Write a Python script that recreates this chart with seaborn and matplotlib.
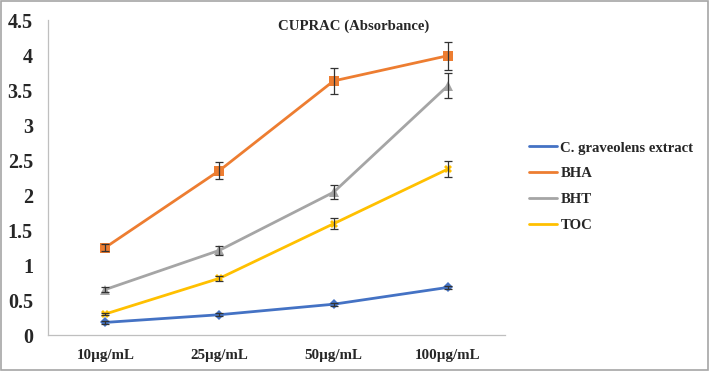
import numpy as np
import pandas as pd
import matplotlib
matplotlib.use("Agg")
import matplotlib.pyplot as plt
import seaborn as sns
from matplotlib.patches import Rectangle

# concentrations on the x axis
concentrations = ["10µg/mL", "25µg/mL", "50µg/mL", "100µg/mL"]
series_names = ["C. graveolens extract", "BHA", "BHT", "TOC"]

# absorbance values
extract_vals = [0.18, 0.29, 0.44, 0.68]
bha_vals = [1.25, 2.35, 3.63, 3.99]
bht_vals = [0.65, 1.21, 2.04, 3.56]
toc_vals = [0.30, 0.81, 1.59, 2.37]

# error bar half-widths
extract_err = [0.02, 0.02, 0.02, 0.02]
bha_err = [0.05, 0.12, 0.19, 0.20]
bht_err = [0.03, 0.06, 0.10, 0.18]
toc_err = [0.02, 0.04, 0.08, 0.11]

colors = ["#4472C4", "#ED7D31", "#A5A5A5", "#FFC000"]
markers = ["D", "s", "^", "X"]
marker_sizes = [5, 7.5, 7, 6]

values = [extract_vals, bha_vals, bht_vals, toc_vals]
errors = [extract_err, bha_err, bht_err, toc_err]

rows = []
for name, vals in zip(series_names, values):
    for c, v in zip(concentrations, vals):
        rows.append({"Concentration": c, "Absorbance": v, "Series": name})
df = pd.DataFrame(rows)

sns.set_theme(style="white")
plt.rcParams["font.family"] = ["Liberation Serif", "DejaVu Serif"]

fig = plt.figure(figsize=(7.09, 3.71), dpi=100)
ax = fig.add_axes([0.068, 0.097, 0.644, 0.849])

sns.lineplot(data=df, x="Concentration", y="Absorbance", hue="Series",
             style="Series", hue_order=series_names, style_order=series_names,
             palette=colors, markers=markers, dashes=False, markersize=6,
             markeredgewidth=0, linewidth=2, ax=ax, legend=False, sort=False)
for line, ms in zip(ax.lines, marker_sizes):
    line.set_markersize(ms)

for vals, errs in zip(values, errors):
    ax.errorbar(concentrations, vals, yerr=errs, fmt="none", ecolor="#333333",
                elinewidth=0.9, capsize=3, capthick=0.9, zorder=5)

ax.set_xlim(-0.5, 3.5)
ax.set_ylim(0, 4.5)
ax.set_yticks(np.arange(0, 4.51, 0.5))
ax.set_yticklabels(["0", "0.5", "1", "1.5", "2", "2.5", "3", "3.5", "4", "4.5"],
                   fontsize=14.5, fontweight="bold")
ax.set_xticks(range(len(concentrations)))
ax.set_xticklabels(concentrations, fontsize=10.8, fontweight="bold")
ax.set_xticks(np.arange(-0.5, 3.6, 1), minor=True)
ax.tick_params(axis="x", which="major", length=0, pad=10)
ax.tick_params(axis="x", which="minor", length=4, color="#BFBFBF", width=0.8, direction="out")
ax.tick_params(axis="y", length=0, pad=11)
ax.set_xlabel("")
ax.set_ylabel("")
for s in ["top", "right"]:
    ax.spines[s].set_visible(False)
for s in ["left", "bottom"]:
    ax.spines[s].set_color("#BFBFBF")
    ax.spines[s].set_linewidth(0.9)

fig.text(0.499, 0.93, "CUPRAC (Absorbance)", fontsize=10.6, fontweight="bold",
         ha="center", va="center")

handles = [plt.Line2D([0], [0], color=c, lw=2) for c in colors]
fig.legend(handles, series_names, loc="upper left", bbox_to_anchor=(0.727, 0.655),
           frameon=False, prop={"size": 10.6, "weight": "bold"}, handlelength=1.95,
           handletextpad=0.2, labelspacing=0.85)

fig.patches.append(Rectangle((0.002, 0.003), 0.996, 0.994, transform=fig.transFigure,
                             fill=False, edgecolor="#A6A6A6", linewidth=1.2))

fig.savefig("out.png", dpi=100)
